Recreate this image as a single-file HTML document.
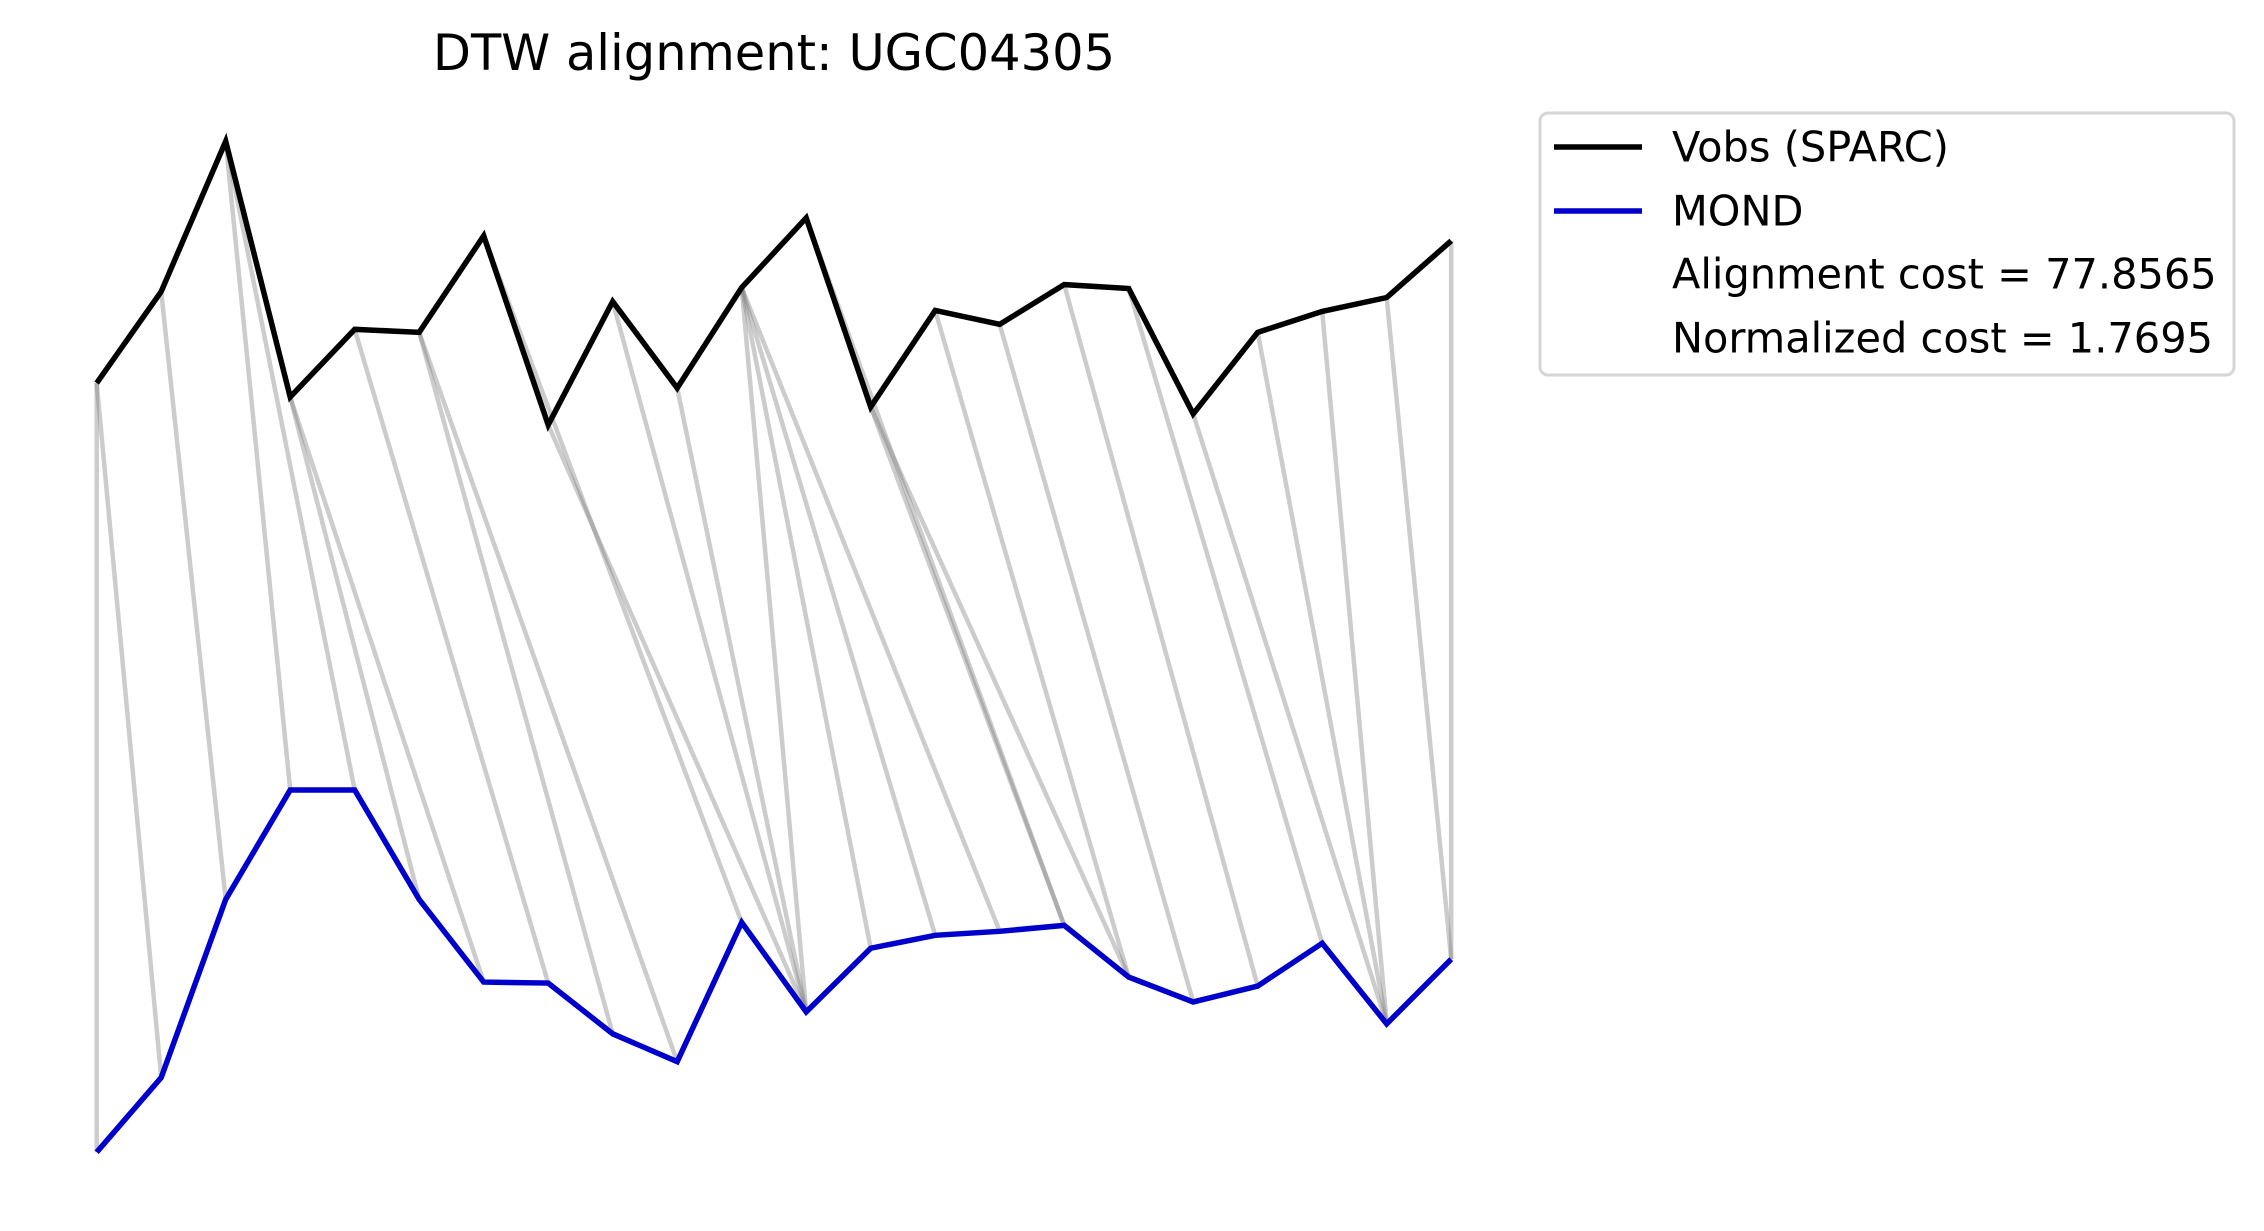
<!DOCTYPE html>
<html><head><meta charset="utf-8"><style>
html,body{margin:0;padding:0;background:#fff;}
svg{display:block;font-family:"DejaVu Sans","Liberation Sans",sans-serif;}
</style></head><body>
<svg id="chart" width="2264" height="1231" viewBox="0 0 2264 1231" xmlns="http://www.w3.org/2000/svg">
<rect width="2264" height="1231" fill="#fff"/>
<text x="774" y="53" text-anchor="middle" dominant-baseline="central" font-size="49.5" fill="#000">DTW alignment: UGC04305</text>
<g id="links"></g>
<g id="series"></g>
<g>
<rect x="1540" y="113" width="694" height="262" rx="8" fill="#fff" stroke="#d6d6d6" stroke-width="3"/>
<line x1="1554" y1="147" x2="1642" y2="147" stroke="#000" stroke-width="5.5"/>
<text x="1672" y="147" font-size="41.5" dominant-baseline="central">Vobs (SPARC)</text>
<line x1="1554" y1="211" x2="1642" y2="211" stroke="#0000cc" stroke-width="5.5"/>
<text x="1672" y="211" font-size="41.5" dominant-baseline="central">MOND</text>
<text x="1672" y="274" font-size="41.5" dominant-baseline="central">Alignment cost = 77.8565</text>
<text x="1672" y="338" font-size="41.5" dominant-baseline="central">Normalized cost = 1.7695</text>
</g>
</svg>
<script>
const vobs = [77.5,86.7,101.8,76.1,82.9,82.6,92.3,73.3,85.7,77.0,87.1,94.1,75.1,84.8,83.4,87.4,87.0,74.4,82.6,84.7,86.1,91.8];
const mond = [0.2,7.7,25.6,36.6,36.6,25.6,17.3,17.2,12.1,9.3,23.3,14.3,20.7,22.0,22.4,23.0,17.8,15.3,16.9,21.2,13.1,19.6];
const pathI = [0,0,1,2,2,3,3,4,5,5,6,7,8,9,10,10,10,10,11,12,12,13,14,15,16,17,18,19,20,21];
const pathJ = [0,1,2,3,4,5,6,7,8,9,10,11,11,11,11,12,13,14,15,15,16,16,17,18,19,20,20,20,21,21];

const NS = 'http://www.w3.org/2000/svg';
function xScale(i){ return 96.7 + i * (1451.2 - 96.7) / (vobs.length - 1); }
function yScale(v){ return 1154.2 - v * 9.95; }

const links = document.getElementById('links');
for (let k = 0; k < pathI.length; k++) {
  const i = pathI[k], j = pathJ[k];
  const l = document.createElementNS(NS, 'line');
  l.setAttribute('x1', xScale(i)); l.setAttribute('y1', yScale(vobs[i]));
  l.setAttribute('x2', xScale(j)); l.setAttribute('y2', yScale(mond[j]));
  l.setAttribute('stroke', '#808080'); l.setAttribute('stroke-opacity', '0.4');
  l.setAttribute('stroke-width', '4.5');
  
  
  links.appendChild(l);
}
const series = document.getElementById('series');
function poly(vals, color, name){
  const p = document.createElementNS(NS, 'polyline');
  p.setAttribute('points', vals.map((v, i) => xScale(i) + ',' + yScale(v)).join(' '));
  p.setAttribute('fill', 'none'); p.setAttribute('stroke', color);
  p.setAttribute('stroke-width', '5.5'); p.setAttribute('stroke-linejoin', 'miter');
  
  
  series.appendChild(p);
}
poly(vobs, '#000', 'vobs-line');
poly(mond, '#0000cc', 'mond-line');
</script>
</body></html>
